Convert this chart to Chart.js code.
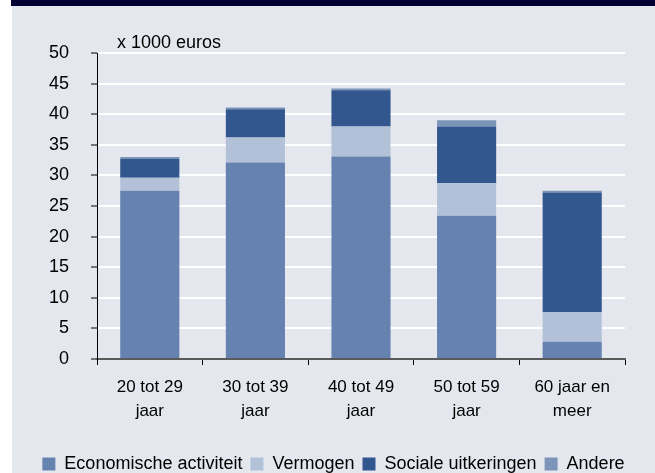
<!DOCTYPE html>
<html>
<head>
<meta charset="utf-8">
<script src="https://cdn.jsdelivr.net/npm/chart.js@4/dist/chart.umd.min.js"></script>
<style>
  html, body { margin: 0; padding: 0; background: #ffffff; overflow: hidden; width: 655px; height: 473px; }
  #header { position: absolute; left: 11px; top: 0; width: 644px; height: 6px; background: #000033; }
  #panel { position: absolute; left: 12px; top: 6px; width: 643px; height: 467px; background: #e4e7ed; overflow: hidden; }
  #wrap { position: absolute; left: 0; top: 0; width: 643px; height: 477px; }
</style>
</head>
<body>
<div id="header"></div>
<div id="panel"><div id="wrap"><canvas id="c"></canvas></div></div>
<script>
const categories = [["20 tot 29", "jaar"], ["30 tot 39", "jaar"], ["40 tot 49", "jaar"], ["50 tot 59", "jaar"], ["60 jaar en", "meer"]];
const economischeActiviteit = [27.5, 32.1, 33.1, 23.4, 2.8];
const vermogen = [2.1, 4.1, 4.9, 5.3, 4.9];
const socialeUitkeringen = [3.1, 4.6, 5.9, 9.3, 19.5];
const andere = [0.3, 0.3, 0.3, 1.0, 0.3];
const seriesNames = ["Economische activiteit", "Vermogen", "Sociale uitkeringen", "Andere"];
const unitLabel = "x 1000 euros";

const FONT = '"Liberation Sans", Arial, sans-serif';

const unitPlugin = {
  id: 'unitLabel',
  afterDraw(chart) {
    const ctx = chart.ctx;
    const a = chart.chartArea;
    ctx.save();
    ctx.font = '18px ' + FONT;
    ctx.fillStyle = '#000';
    ctx.textAlign = 'left';
    ctx.textBaseline = 'middle';
    ctx.fillText(unitLabel, a.left + 20, a.top - 10);
    ctx.restore();
  }
};

const colors = ['#6582b0', '#b3c1d8', '#32578f', '#7d94b9'];
const seriesData = [economischeActiviteit, vermogen, socialeUitkeringen, andere];

new Chart(document.getElementById('c'), {
  type: 'bar',
  data: {
    labels: categories,
    datasets: seriesData.map((d, i) => ({
      label: seriesNames[i],
      data: d,
      backgroundColor: colors[i],
      borderWidth: 0,
      categoryPercentage: 1,
      barPercentage: 0.56
    }))
  },
  options: {
    responsive: true,
    maintainAspectRatio: false,
    animation: false,
    layout: { padding: { top: 47, right: 0, left: 0, bottom: 0 } },
    plugins: {
      tooltip: { enabled: false },
      legend: {
        position: 'bottom',
        align: 'center',
        labels: {
          boxWidth: 13,
          boxHeight: 13,
          padding: 8,
          color: '#000',
          font: { family: FONT, size: 18 }
        }
      }
    },
    scales: {
      x: {
        stacked: true,
        offset: true,
        grid: {
          display: true,
          offset: true,
          drawOnChartArea: false,
          tickLength: 6,
          tickColor: '#000',
          lineWidth: 1
        },
        border: { display: true, color: '#5a5a5a', width: 2 },
        ticks: {
          color: '#000',
          padding: 10,
          maxRotation: 0,
          autoSkip: false,
          font: { family: FONT, size: 17, lineHeight: 1.435 }
        },
        afterFit(scale) { scale.height = 88; }
      },
      y: {
        stacked: true,
        min: 0,
        max: 50,
        ticks: {
          stepSize: 5,
          color: '#000',
          padding: 22,
          font: { family: FONT, size: 18 }
        },
        grid: {
          color: (c) => (c.tick && c.tick.value === 0) ? 'rgba(0,0,0,0)' : '#ffffff',
          lineWidth: 2,
          tickLength: 6,
          tickColor: '#000',
          tickWidth: 1
        },
        border: { display: true, color: '#000', width: 1 },
        afterFit(scale) { scale.width = 85; }
      },
      rightSpace: {
        type: 'linear',
        position: 'right',
        display: true,
        grid: { display: false, drawOnChartArea: false },
        border: { display: false },
        ticks: { display: false },
        afterFit(scale) { scale.width = 30; }
      }
    }
  },
  plugins: [unitPlugin]
});
</script>
</body>
</html>
